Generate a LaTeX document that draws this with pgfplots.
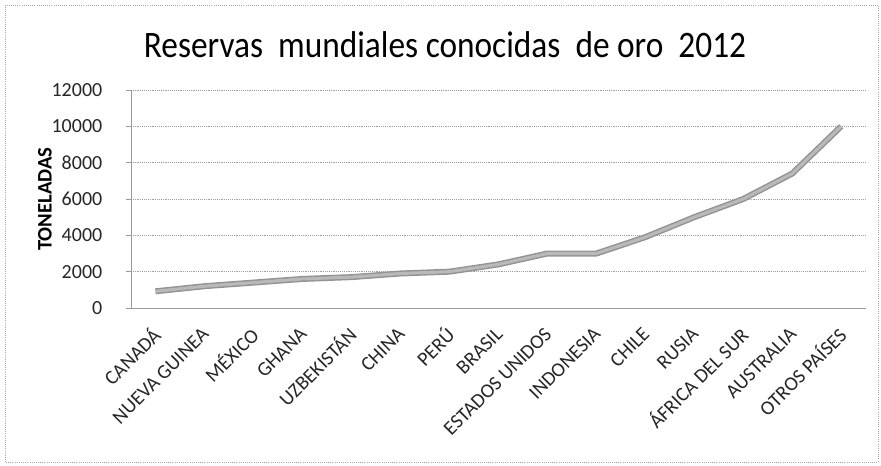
\documentclass[border=0pt]{standalone}
\usepackage{fontspec}
\setmainfont{Carlito}
\usepackage{graphicx}
\usepackage{pgfplots}
\pgfplotsset{compat=1.18}
\begin{document}
\begin{tikzpicture}
% page frame: 1px = 0.75pt of the 881x465 reference
\useasboundingbox (0,0) rectangle (660.75pt,348.75pt);
\draw[gray!70, densely dotted, line width=0.6pt] (3.75pt,2.25pt) rectangle (658.5pt,345pt);
\node[font=\fontsize{25}{28}\selectfont] at (333.75pt,315pt)
    {\scalebox{1}[1.12]{Reservas\ \ mundiales conocidas\ \ de oro\ \ 2012}};
\begin{axis}[
    at={(98.25pt,117.75pt)},
    anchor=south west,
    scale only axis,
    width=551pt,
    height=163.5pt,
    xmin=-0.5, xmax=14.5,
    ymin=0, ymax=12000,
    ytick={0,2000,4000,6000,8000,10000,12000},
    xtick={0,...,14},
    xticklabels={CANADÁ,NUEVA GUINEA,MÉXICO,GHANA,UZBEKISTÁN,CHINA,PERÚ,BRASIL,ESTADOS UNIDOS,INDONESIA,CHILE,RUSIA,ÁFRICA DEL SUR,AUSTRALIA,OTROS PAÍSES},
    /pgf/number format/assume math mode=true,
    /pgf/number format/set thousands separator={},
    scaled y ticks=false,
    tick label style={font=\fontsize{15}{17}\selectfont, text=black!85},
    xticklabel style={rotate=45, anchor=east, xshift=-5.4pt, yshift=-9.8pt},
    yticklabel style={xshift=-14pt},
    ylabel={\textbf{TONELADAS}},
    ylabel style={font=\fontsize{15.5}{17}\selectfont, at={(axis description cs:-0.117,0.5)}, anchor=center},
    axis x line*=bottom,
    axis y line*=left,
    axis line style={gray!80, line width=0.6pt, -},
    xtick style={draw=none},
    ytick style={gray!80, line width=0.6pt},
    tick align=outside,
    major tick length=4pt,
    ymajorgrids=true,
    grid style={gray!75, densely dotted, line width=0.6pt},
    clip=false
]
\addplot[draw=gray!85, line width=1.1pt, double=gray!55, double distance=2.3pt] coordinates {
    (0,920) (1,1200) (2,1400) (3,1600) (4,1700) (5,1900) (6,2000) (7,2400)
    (8,3000) (9,3000) (10,3900) (11,5000) (12,6000) (13,7400) (14,10000)
};
\end{axis}
\end{tikzpicture}
\end{document}
